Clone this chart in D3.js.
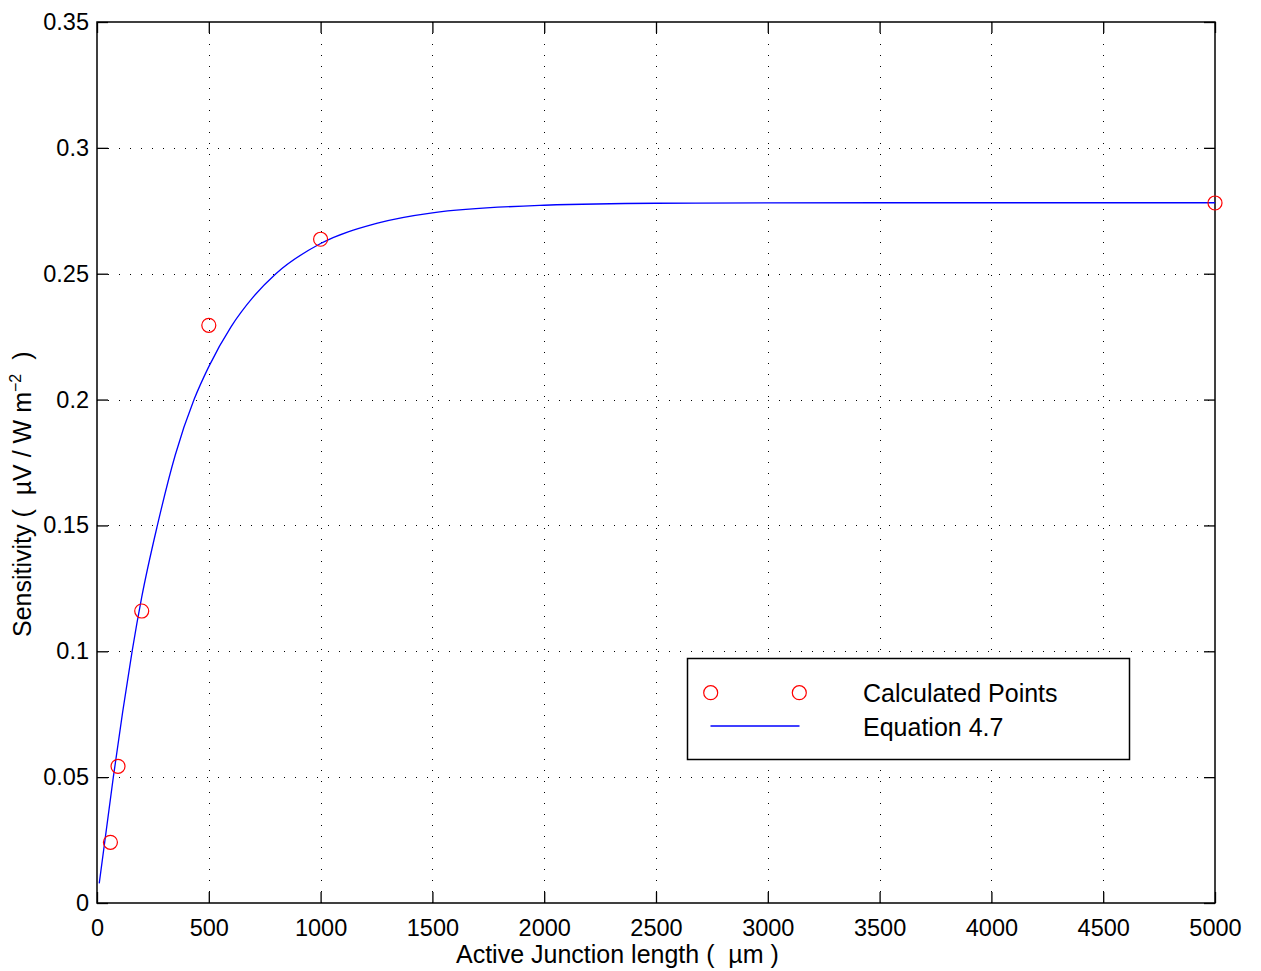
<!DOCTYPE html>
<html>
<head>
<meta charset="utf-8">
<script src="https://cdn.jsdelivr.net/npm/d3@7"></script>
<style>
  html, body { margin: 0; padding: 0; background: #fff; }
  svg { display: block; }
  text { font-family: "Liberation Sans", Arial, Helvetica, sans-serif; fill: #000; white-space: pre; }
</style>
</head>
<body>
<svg id="chart" width="1261" height="971"></svg>
<script>
// ---- data ----
const pointLength = [60, 94, 200, 500, 1000, 5000];
const pointSensitivity = [0.0241, 0.0543, 0.1160, 0.2295, 0.2637, 0.2781];

const curveLength = [10, 73, 115, 157, 200, 270, 350, 434, 500, 600, 700, 800, 1000, 1250, 1500, 2000, 2500, 3500, 5000];
const curveSensitivity = [0.0078, 0.0500, 0.0760, 0.1000, 0.1215, 0.1500, 0.1780, 0.2000, 0.2131, 0.2290, 0.2409, 0.2500, 0.2620, 0.2700, 0.2742, 0.2772, 0.2780, 0.2782, 0.2782];

const xTicks = [0, 500, 1000, 1500, 2000, 2500, 3000, 3500, 4000, 4500, 5000];
const yTicks = [0, 0.05, 0.1, 0.15, 0.2, 0.25, 0.3, 0.35];
const yTickLabels = ["0", "0.05", "0.1", "0.15", "0.2", "0.25", "0.3", "0.35"];
const legendLabels = ["Calculated Points", "Equation 4.7"];

// ---- layout ----
const svg = d3.select("#chart");
const pLeft = 97, pRight = 1215, pTop = 22, pBottom = 903;
const x = d3.scaleLinear().domain([0, 5000]).range([pLeft, pRight]);
const y = d3.scaleLinear().domain([0, 0.35]).range([pBottom, pTop]);
const fontSize = 23.5;
const labelSize = 25;
const tickLen = 11;

// grid
const grid = svg.append("g").attr("stroke", "#000").attr("stroke-width", 1)
  .attr("stroke-dasharray", "1,10").attr("fill", "none");
xTicks.slice(1, -1).forEach(t => {
  grid.append("line").attr("x1", Math.round(x(t)) + 0.5).attr("x2", Math.round(x(t)) + 0.5)
    .attr("y1", pBottom).attr("y2", pTop);
});
yTicks.slice(1, -1).forEach(t => {
  grid.append("line").attr("y1", Math.round(y(t)) + 0.5).attr("y2", Math.round(y(t)) + 0.5)
    .attr("x1", pLeft).attr("x2", pRight);
});

// axes
function styleAxis(g, showText) {
  g.select(".domain").remove();
  g.selectAll(".tick line").attr("stroke", "#000").attr("stroke-width", 1.3);
  g.selectAll(".tick text").attr("font-size", fontSize).attr("fill", "#000")
    .style("font-family", '"Liberation Sans", Arial, sans-serif');
  if (!showText) g.selectAll(".tick text").remove();
}
const fmtX = d => String(d);
svg.append("g").attr("transform", `translate(0,${pBottom})`)
  .call(d3.axisBottom(x).tickValues(xTicks).tickFormat(fmtX).tickSizeInner(-tickLen).tickSizeOuter(0).tickPadding(16))
  .call(g => styleAxis(g, true));
svg.append("g").attr("transform", `translate(0,${pTop})`)
  .call(d3.axisTop(x).tickValues(xTicks).tickSizeInner(-tickLen).tickSizeOuter(0))
  .call(g => styleAxis(g, false));
svg.append("g").attr("transform", `translate(${pLeft},0)`)
  .call(d3.axisLeft(y).tickValues(yTicks).tickFormat((d, i) => yTickLabels[i]).tickSizeInner(-tickLen).tickSizeOuter(0).tickPadding(8))
  .call(g => styleAxis(g, true));
svg.append("g").attr("transform", `translate(${pRight},0)`)
  .call(d3.axisRight(y).tickValues(yTicks).tickSizeInner(-tickLen).tickSizeOuter(0))
  .call(g => styleAxis(g, false));

// frame
svg.append("rect").attr("x", pLeft).attr("y", pTop).attr("width", pRight - pLeft).attr("height", pBottom - pTop)
  .attr("fill", "none").attr("stroke", "#000").attr("stroke-width", 1.5);

// curve
const curveData = curveLength.map((l, i) => [l, curveSensitivity[i]]);
svg.append("path").datum(curveData)
  .attr("fill", "none").attr("stroke", "#0000ff").attr("stroke-width", 1.3)
  .attr("d", d3.line().x(d => x(d[0])).y(d => y(d[1])).curve(d3.curveMonotoneX));

// points
svg.append("g").selectAll("circle")
  .data(pointLength.map((l, i) => [l, pointSensitivity[i]]))
  .join("circle")
  .attr("cx", d => x(d[0])).attr("cy", d => y(d[1])).attr("r", 7)
  .attr("fill", "none").attr("stroke", "#ff0000").attr("stroke-width", 1.2);

// axis titles
svg.append("text").attr("x", 456).attr("y", 963)
  .attr("text-anchor", "start").attr("font-size", labelSize)
  .text("Active Junction length (  \u00B5m )");
const yl = svg.append("text").attr("transform", `translate(31,637) rotate(-90)`)
  .attr("text-anchor", "start").attr("font-size", labelSize);
yl.append("tspan").text("Sensitivity (  \u00B5V / W m");
yl.append("tspan").attr("font-size", 16).attr("dy", -10).text("\u22122");
yl.append("tspan").attr("dy", 10).text("  )");

// legend
const lg = svg.append("g");
lg.append("rect").attr("x", 687.5).attr("y", 658.5).attr("width", 442).attr("height", 101)
  .attr("fill", "#fff").attr("stroke", "#000").attr("stroke-width", 1.5);
[710.7, 799.3].forEach(cx => {
  lg.append("circle").attr("cx", cx).attr("cy", 692.7).attr("r", 7)
    .attr("fill", "none").attr("stroke", "#ff0000").attr("stroke-width", 1.2);
});
lg.append("line").attr("x1", 710.5).attr("x2", 799.5).attr("y1", 726).attr("y2", 726)
  .attr("stroke", "#0000ff").attr("stroke-width", 1.3);
lg.append("text").attr("x", 863).attr("y", 702).attr("font-size", labelSize).text(legendLabels[0]);
lg.append("text").attr("x", 863).attr("y", 735.5).attr("font-size", labelSize).text(legendLabels[1]);
</script>
</body>
</html>
